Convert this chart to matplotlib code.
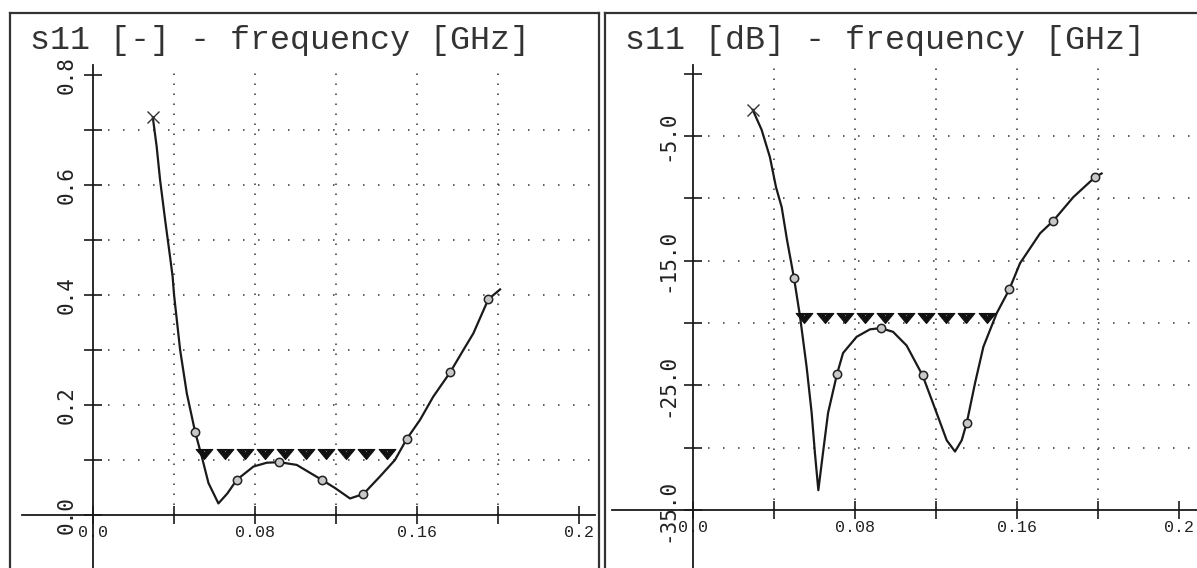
import numpy as np
import matplotlib
matplotlib.use('Agg')
import matplotlib.pyplot as plt
from matplotlib.path import Path
from matplotlib.lines import Line2D

plt.rcParams['lines.scale_dashes'] = False
plt.rcParams['font.family'] = ['Liberation Mono', 'DejaVu Sans Mono']

# |s11| linear, left panel
freq_lin = [0.0295, 0.0314, 0.0331, 0.0356, 0.0380, 0.0393, 0.0400, 0.0430, 0.0463,
            0.0504, 0.0537, 0.0570, 0.0619, 0.0663, 0.0710, 0.0792, 0.0858, 0.0920,
            0.1006, 0.1129, 0.1195, 0.1269, 0.1335, 0.1417, 0.1491, 0.1549, 0.1615,
            0.1680, 0.1763, 0.1829, 0.1878, 0.1952, 0.2010]
s11_lin = [0.723, 0.670, 0.609, 0.536, 0.470, 0.433, 0.400, 0.300, 0.221,
           0.151, 0.106, 0.058, 0.021, 0.039, 0.064, 0.088, 0.095, 0.096,
           0.091, 0.064, 0.049, 0.030, 0.038, 0.070, 0.100, 0.138, 0.173,
           0.215, 0.259, 0.300, 0.330, 0.392, 0.410]
circ_f_lin = [0.0504, 0.0710, 0.0920, 0.1129, 0.1335, 0.1549, 0.1763, 0.1952]
circ_lin = [0.151, 0.064, 0.096, 0.064, 0.038, 0.138, 0.259, 0.392]

# s11 in dB, right panel
freq_db = [0.0295, 0.0339, 0.0380, 0.0410, 0.0438, 0.0464, 0.0499, 0.0528, 0.0561,
           0.0586, 0.0602, 0.0619, 0.0642, 0.0667, 0.0711, 0.0741, 0.0808, 0.0874,
           0.0927, 0.0988, 0.1055, 0.1134, 0.1203, 0.1253, 0.1294, 0.1327, 0.1352,
           0.1393, 0.1434, 0.1500, 0.1562, 0.1615, 0.1714, 0.1779, 0.1878, 0.1985,
           0.2018]
s11_db = [-2.9, -4.5, -6.7, -9.1, -10.7, -13.3, -16.4, -19.4, -23.5,
          -27.2, -30.4, -33.4, -30.4, -27.2, -24.1, -22.4, -21.1, -20.5,
          -20.4, -20.7, -21.8, -24.2, -27.2, -29.4, -30.3, -29.4, -28.0,
          -24.8, -21.9, -19.2, -17.3, -15.2, -12.8, -11.8, -9.9, -8.3,
          -8.0]
circ_f_db = [0.0499, 0.0711, 0.0927, 0.1134, 0.1352, 0.1562, 0.1779, 0.1985]
circ_db = [-16.4, -24.1, -20.4, -24.2, -28.0, -17.3, -11.8, -8.3]

# specification markers
spec_freq = [0.055, 0.065, 0.075, 0.085, 0.095, 0.105, 0.115, 0.125, 0.135, 0.145]
spec_lin = 0.11
spec_db = -19.6

x_ticks = [0.0, 0.04, 0.08, 0.12, 0.16, 0.20, 0.24]
x_ticklabels = ['0.0', '', '0.08', '', '0.16', '', '0.2']
lin_ticks = [0.0, 0.1, 0.2, 0.3, 0.4, 0.5, 0.6, 0.7, 0.8]
lin_ticklabels = ['0.0', '', '0.2', '', '0.4', '', '0.6', '', '0.8']
db_ticks = [-35, -30, -25, -20, -15, -10, -5, 0]
db_ticklabels = ['-35.0', '', '-25.0', '', '-15.0', '', '-5.0', '']

W, H = 1197, 568
fig = plt.figure(figsize=(W / 100, H / 100), dpi=100)
fig.patch.set_facecolor('white')

ink = '#1a1a1a'
dot_h = (0, (1.1, 9.7))
dot_v = (0, (1.1, 6.1))

# spec marker: wide down-pointing wedge with a small notch
spec_marker = Path([(-1, 0.6), (1, 0.6), (0, -0.6), (-1, 0.6),
                    (-0.18, 0.45), (0, 0.15), (0.18, 0.45), (-0.18, 0.45)],
                   [Path.MOVETO, Path.LINETO, Path.LINETO, Path.CLOSEPOLY,
                    Path.MOVETO, Path.LINETO, Path.LINETO, Path.CLOSEPOLY])


def px_axes(x0, x1, y0, y1):
    return fig.add_axes([x0 / W, 1 - y1 / H, (x1 - x0) / W, (y1 - y0) / H])


def style_axes(ax, yticks, ylabels, ybase):
    ax.set_facecolor('none')
    for s in ['top', 'right']:
        ax.spines[s].set_visible(False)
    ax.spines['left'].set_position(('data', 0))
    ax.spines['bottom'].set_position(('data', ybase))
    for s in ['left', 'bottom']:
        ax.spines[s].set_linewidth(1.3)
        ax.spines[s].set_color(ink)
    ax.set_xticks(x_ticks, x_ticklabels, fontsize=12, family='Liberation Mono')
    ax.set_yticks(yticks, ylabels, fontsize=15, family='DejaVu Sans Mono',
                  rotation=90, va='center')
    ax.tick_params(axis='both', direction='inout', length=13, width=1.2,
                   color=ink, labelcolor='#222')
    ax.tick_params(axis='x', pad=0.5)
    ax.tick_params(axis='y', pad=5)
    x_right = ax.get_xlim()[1]
    y_top = ax.get_ylim()[1]
    ax.hlines(yticks[1:-1], 0, x_right, colors='#333', linewidth=1.1,
              linestyles=dot_h, zorder=1)
    ax.vlines(x_ticks[1:-1], ybase, y_top, colors='#333', linewidth=1.1,
              linestyles=dot_v, zorder=1)


def draw_curve(ax, f, v, cf, cv, spec):
    ax.plot(f, v, color=ink, lw=1.6, zorder=3)
    ax.plot(f[0], v[0], marker='x', ms=8, mew=1.0, color='#333', zorder=4)
    ax.plot(cf, cv, ls='none', marker='o', ms=6, mfc='#c8c8c8', mec='#222',
            mew=1.1, zorder=4)
    ax.plot(spec_freq, [spec] * len(spec_freq), ls='none', marker=spec_marker,
            ms=12, mfc='#111', mec='#111', mew=0.8, zorder=4)


# left panel: linear
ax1 = px_axes(22, 595, 65, 568)
ax1.set_xlim(-0.0351, 0.2479)
ax1.set_ylim(-0.0964, 0.818)
style_axes(ax1, lin_ticks, lin_ticklabels, 0.0)
draw_curve(ax1, freq_lin, s11_lin, circ_f_lin, circ_lin, spec_lin)

# right panel: dB
ax2 = px_axes(612, 1197, 65, 568)
ax2.set_xlim(-0.040, 0.2489)
ax2.set_ylim(-39.64, 0.70)
style_axes(ax2, db_ticks, db_ticklabels, -35)
draw_curve(ax2, freq_db, s11_db, circ_f_db, circ_db, spec_db)

# titles
fig.text(30 / W, 1 - 40 / H, 's11 [-] - frequency [GHz]', fontsize=24,
         family='Liberation Mono', color='#333', va='center', ha='left')
fig.text(625 / W, 1 - 40 / H, 's11 [dB] - frequency [GHz]', fontsize=24,
         family='Liberation Mono', color='#333', va='center', ha='left')

# panel frames
frame = dict(color='#333', lw=1.6, transform=fig.transFigure)
for xs, ys in [([10, 10], [13, H]), ([10, 599], [13, 13]), ([599, 599], [13, H]),
               ([605, 605], [13, H]), ([605, W], [13, 13])]:
    fig.add_artist(Line2D([x / W for x in xs], [1 - y / H for y in ys], **frame))

fig.savefig('out.png', dpi=100, facecolor='white')
